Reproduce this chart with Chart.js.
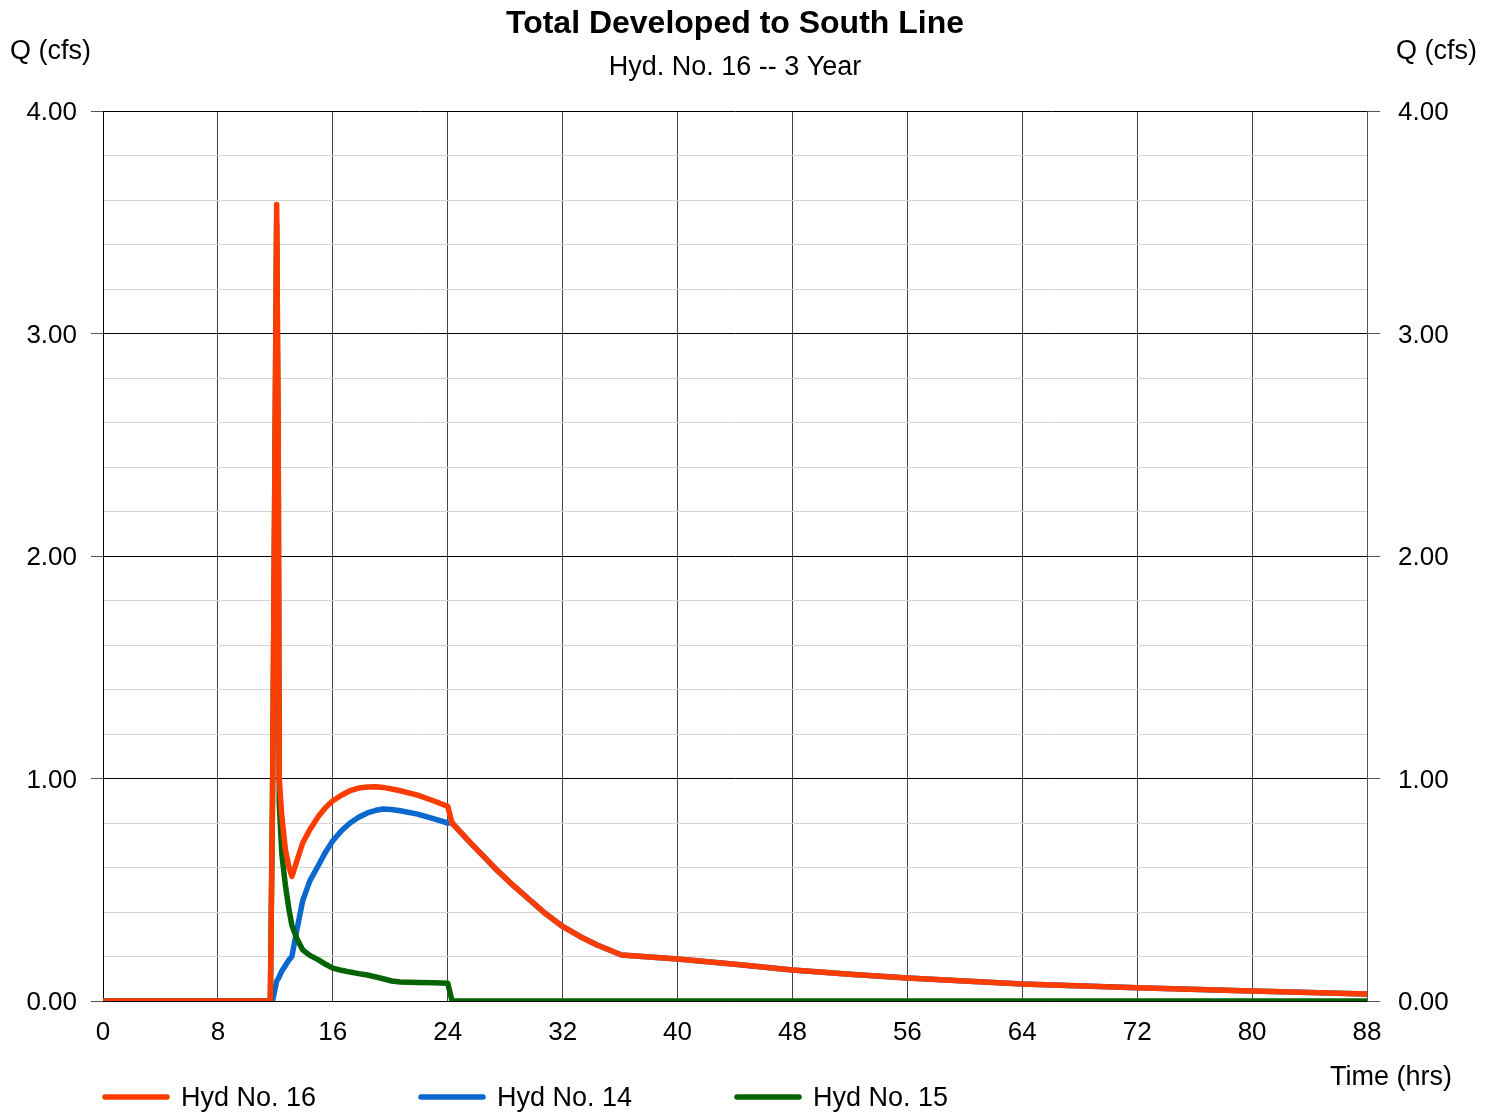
<!DOCTYPE html>
<html>
<head>
<meta charset="utf-8">
<title>Total Developed to South Line</title>
<script src="https://cdn.jsdelivr.net/npm/chart.js@4/dist/chart.umd.min.js"></script>
<style>
  html, body { margin: 0; padding: 0; background: #fff; }
  canvas { display: block; }
</style>
</head>
<body>
<canvas id="hydChart" width="1496" height="1112"></canvas>
<script>
// Datos (tiempo en horas, caudal en cfs)
const hours = [0, 11.65, 11.8, 11.9, 12.09, 12.2, 12.27, 12.45, 12.7, 12.95,
  13.15, 13.5, 13.9, 14.4, 15, 15.5, 16, 16.6, 17.2, 17.8,
  18.4, 19.0, 19.5, 20.1, 20.7, 21.9, 23, 24, 24.3, 25.6,
  26.5, 27.4, 28.5, 29.7, 30.8, 32, 33.2, 34.4, 35.3, 36.1,
  40, 44, 48, 52, 56, 60, 64, 72, 80, 88];
const hyd16 = [0, 0, 0.9, 1.8, 3.58, 2.5, 1.0, 0.83, 0.68, 0.60,
  0.56, 0.63, 0.71, 0.77, 0.83, 0.87, 0.90, 0.925, 0.945, 0.957,
  0.962, 0.963, 0.960, 0.953, 0.945, 0.925, 0.90, 0.875, 0.80, 0.71,
  0.65, 0.59, 0.523, 0.455, 0.393, 0.335, 0.29, 0.252, 0.228, 0.207,
  0.189, 0.165, 0.139, 0.12, 0.103, 0.09, 0.076, 0.06, 0.045, 0.031];
const hyd14 = [0, 0, 0, 0.03, 0.09, 0.10, 0.11, 0.135, 0.16, 0.185,
  0.2, 0.32, 0.45, 0.54, 0.61, 0.67, 0.72, 0.765, 0.80, 0.826,
  0.845, 0.857, 0.863, 0.861, 0.855, 0.84, 0.82, 0.80, 0.80, 0.71,
  0.65, 0.59, 0.523, 0.455, 0.393, 0.335, 0.29, 0.252, 0.228, 0.207,
  0.189, 0.165, 0.139, 0.12, 0.103, 0.09, 0.076, 0.06, 0.045, 0.031];
const hyd15 = [0, 0, 0.9, 1.77, 3.49, 2.4, 0.89, 0.66, 0.52, 0.41,
  0.34, 0.28, 0.23, 0.205, 0.185, 0.165, 0.148, 0.138, 0.13, 0.123,
  0.117, 0.108, 0.10, 0.09, 0.085, 0.083, 0.082, 0.08, 0, 0,
  0, 0, 0, 0, 0, 0, 0, 0, 0, 0,
  0, 0, 0, 0, 0, 0, 0, 0, 0, 0];
const seriesNames = ['Hyd No. 16', 'Hyd No. 14', 'Hyd No. 15'];
const xTicks = [0, 8, 16, 24, 32, 40, 48, 56, 64, 72, 80, 88];
const yTicks = [0, 1, 2, 3, 4];

const chartTitle = 'Total Developed to South Line';
const chartSubtitle = 'Hyd. No. 16 -- 3 Year';
const yAxisTitle = 'Q (cfs)';
const xAxisTitle = 'Time (hrs)';

const FONT = '"Liberation Sans", Arial, sans-serif';

function toPoints(values) {
  return hours.map(function(h, i) { return { x: h, y: values[i] }; });
}

function isMajor(v) {
  return Math.abs(v - Math.round(v)) < 1e-6;
}

// Títulos, rótulos de ejes y leyenda
const textosPlugin = {
  id: 'textos',
  afterDraw: function(chart) {
    const ctx = chart.ctx;
    const area = chart.chartArea;
    const cx = (area.left + area.right) / 2;
    ctx.save();
    ctx.fillStyle = '#000';
    ctx.textBaseline = 'middle';
    ctx.textAlign = 'center';
    ctx.font = 'bold 32px ' + FONT;
    ctx.fillText(chartTitle, cx, 24);
    ctx.font = '27px ' + FONT;
    ctx.fillText(chartSubtitle, cx, 68);
    ctx.textAlign = 'left';
    ctx.fillText(yAxisTitle, 10, 52);
    ctx.textAlign = 'right';
    ctx.fillText(yAxisTitle, 1477, 52);
    ctx.fillText(xAxisTitle, 1452, 1078);

    // leyenda
    ctx.textAlign = 'left';
    chart.data.datasets.forEach(function(ds, i) {
      const x0 = area.left + i * 316;
      ctx.strokeStyle = ds.borderColor;
      ctx.lineWidth = 5.5;
      ctx.lineCap = 'round';
      ctx.beginPath();
      ctx.moveTo(x0 + 2, 1097);
      ctx.lineTo(x0 + 64, 1097);
      ctx.stroke();
      ctx.fillText(ds.label, x0 + 78, 1099);
    });
    ctx.restore();
  }
};

const ctx = document.getElementById('hydChart').getContext('2d');
const hydChart = new Chart(ctx, {
  type: 'line',
  data: {
    datasets: [
      { label: seriesNames[0], data: toPoints(hyd16), borderColor: '#ff3c00', order: 0 },
      { label: seriesNames[1], data: toPoints(hyd14), borderColor: '#0a68cf', order: 2 },
      { label: seriesNames[2], data: toPoints(hyd15), borderColor: '#046404', order: 1 }
    ]
  },
  options: {
    responsive: false,
    animation: false,
    events: [],
    layout: { padding: { top: 111, left: 0, right: 0, bottom: 0 } },
    elements: {
      point: { radius: 0 },
      line: { borderWidth: 5.5, borderCapStyle: 'round', borderJoinStyle: 'round', tension: 0, fill: false }
    },
    plugins: {
      legend: { display: false },
      title: { display: false },
      tooltip: { enabled: false }
    },
    scales: {
      x: {
        type: 'linear',
        min: xTicks[0],
        max: xTicks[xTicks.length - 1],
        afterBuildTicks: function(scale) {
          scale.ticks = xTicks.map(function(v) { return { value: v }; });
        },
        afterFit: function(scale) { scale.height = 111; },
        ticks: { color: '#000', font: { family: FONT, size: 26 }, padding: 16, maxRotation: 0, autoSkip: false },
        grid: { color: '#444', lineWidth: 1, drawTicks: false },
        border: { color: '#000', width: 1 }
      },
      y: {
        position: 'left',
        min: yTicks[0],
        max: yTicks[yTicks.length - 1],
        afterFit: function(scale) { scale.width = 103; },
        ticks: {
          stepSize: 0.2,
          autoSkip: false,
          color: '#000',
          padding: 14,
          labelOffset: 2,
          font: { family: FONT, size: 26 },
          callback: function(v) { return isMajor(v) ? v.toFixed(2) : ''; }
        },
        grid: {
          lineWidth: 1,
          tickLength: 12,
          color: function(c) { return isMajor(c.tick.value) ? '#000' : '#d4d4d4'; },
          tickColor: function(c) { return isMajor(c.tick.value) ? '#555' : 'rgba(0,0,0,0)'; }
        },
        border: { color: '#000', width: 1 }
      },
      y2: {
        position: 'right',
        min: yTicks[0],
        max: yTicks[yTicks.length - 1],
        afterFit: function(scale) { scale.width = 129; },
        ticks: {
          stepSize: 0.2,
          autoSkip: false,
          color: '#000',
          padding: 18,
          labelOffset: 2,
          font: { family: FONT, size: 26 },
          callback: function(v) { return isMajor(v) ? v.toFixed(2) : ''; }
        },
        grid: {
          drawOnChartArea: false,
          lineWidth: 1,
          tickLength: 13,
          tickColor: function(c) { return isMajor(c.tick.value) ? '#555' : 'rgba(0,0,0,0)'; }
        },
        border: { color: '#555', width: 1 }
      }
    }
  },
  plugins: [textosPlugin]
});
</script>
</body>
</html>
